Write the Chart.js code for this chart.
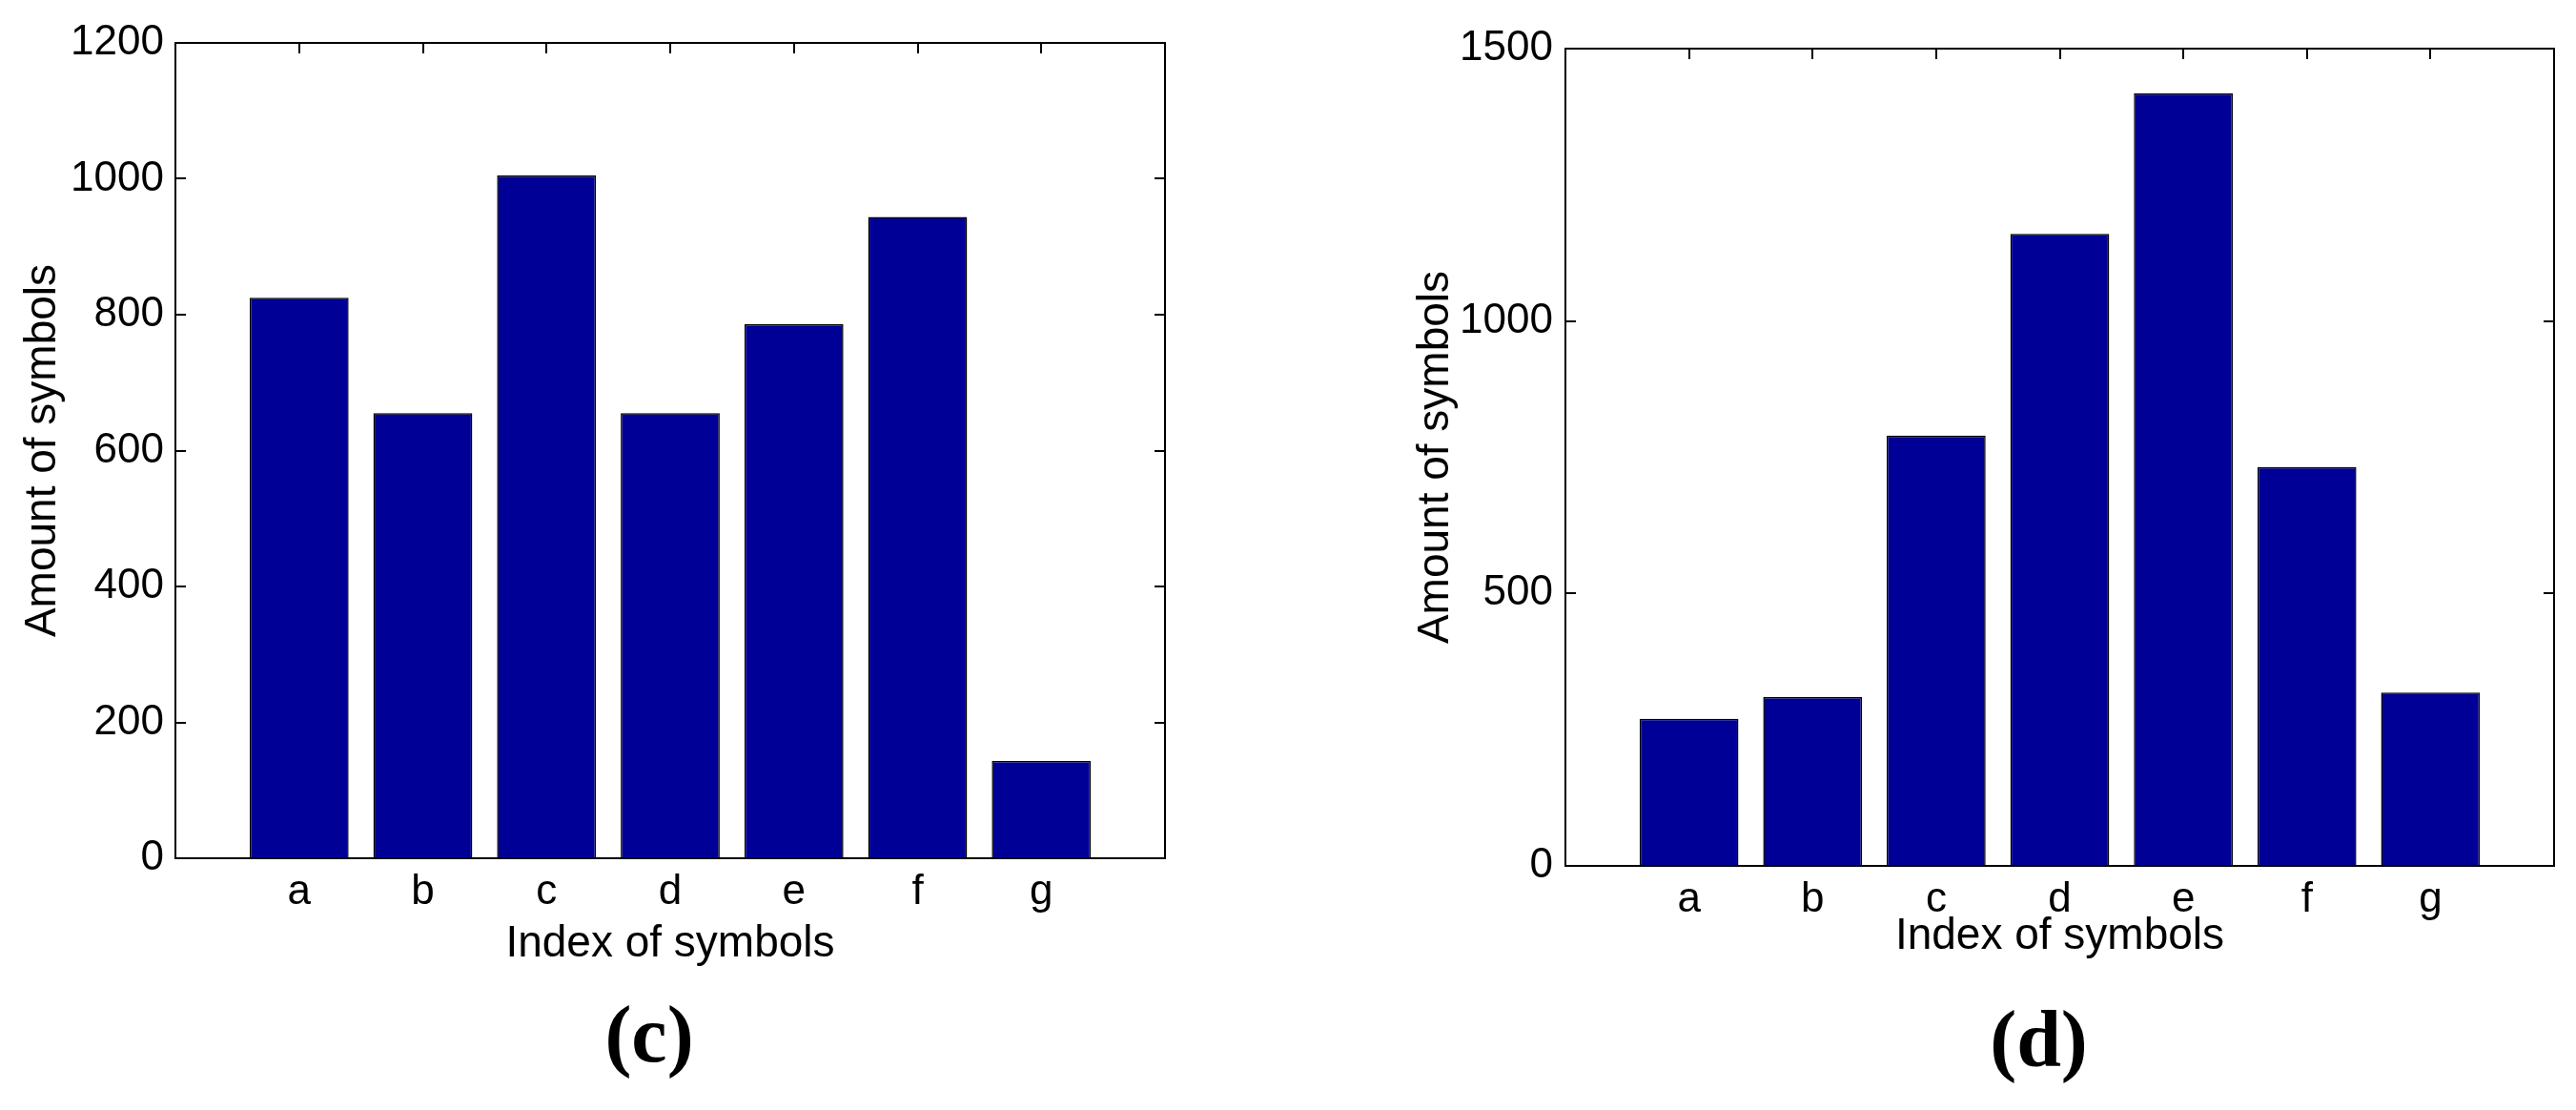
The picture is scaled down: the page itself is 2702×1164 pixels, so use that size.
<!DOCTYPE html>
<html>
<head>
<meta charset="utf-8">
<title>Amount of symbols</title>
<script src="https://cdn.jsdelivr.net/npm/chart.js@4.4.1/dist/chart.umd.min.js"></script>
<style>
  html, body { margin: 0; padding: 0; background: #fff; }
  .panel { position: absolute; top: 0; width: 1351px; height: 1164px; }
  #panelC { left: 0; }
  #panelD { left: 1351px; }
</style>
</head>
<body>
<div class="panel" id="panelC"><canvas id="chartC" width="1351" height="1164"></canvas></div>
<div class="panel" id="panelD"><canvas id="chartD" width="1351" height="1164"></canvas></div>
<script>
// data
const symbols = ["a", "b", "c", "d", "e", "f", "g"];
const amountsC = [825, 655, 1005, 655, 786, 944, 143];
const amountsD = [270, 310, 790, 1160, 1418, 732, 318];
const yTicksC = { max: 1200, step: 200 };
const yTicksD = { max: 1500, step: 500 };

(function () {
  "use strict";

  const COLORS = {
    bar: "#000096",
    edge: "#000000",
    text: "#000000",
  };
  const SANS = "'Liberation Sans', Arial, sans-serif";
  const SERIF = "'Liberation Serif', 'Times New Roman', serif";
  const TICK_LEN = 11;

  // MATLAB-style box with inward ticks on left/right and top
  const frameTicks = {
    id: "frameTicks",
    afterDatasetsDraw(chart) {
      const { ctx, chartArea: a, scales } = chart;
      ctx.save();
      ctx.strokeStyle = "#000";
      ctx.lineWidth = 2;
      ctx.beginPath();
      scales.y.ticks.forEach((t) => {
        const py = Math.round(scales.y.getPixelForValue(t.value));
        ctx.moveTo(a.left, py);
        ctx.lineTo(a.left + TICK_LEN, py);
        ctx.moveTo(a.right, py);
        ctx.lineTo(a.right - TICK_LEN, py);
      });
      scales.x.ticks.forEach((t) => {
        const px = Math.round(scales.x.getPixelForValue(t.value));
        ctx.moveTo(px, a.top);
        ctx.lineTo(px, a.top + TICK_LEN);
      });
      ctx.stroke();
      ctx.strokeRect(a.left, a.top, a.right - a.left, a.bottom - a.top);
      ctx.restore();
    },
  };

  // the "(c)" / "(d)" caption under each panel, a bit left of centre
  const panelLabel = {
    id: "panelLabel",
    afterDraw(chart, args, opts) {
      if (!opts || !opts.text) return;
      const { ctx, chartArea: a } = chart;
      ctx.save();
      ctx.font = `bold ${opts.size}px ${SERIF}`;
      ctx.fillStyle = COLORS.text;
      ctx.textAlign = "center";
      ctx.textBaseline = "alphabetic";
      ctx.fillText(opts.text, (a.left + a.right) / 2 + opts.dx, a.bottom + opts.dy);
      ctx.restore();
    },
  };

  function buildChart(canvasId, values, yTicks, label, lay) {
    const canvas = document.getElementById(canvasId);
    if (!canvas || typeof Chart === "undefined") return;

    new Chart(canvas, {
      type: "bar",
      data: {
        datasets: [{
          data: values.map((v, i) => ({ x: i + 1, y: v })),
          backgroundColor: COLORS.bar,
          borderColor: COLORS.edge,
          borderWidth: 1.5,
          categoryPercentage: 1,
          barPercentage: 0.8,
        }],
      },
      options: {
        responsive: false,
        animation: false,
        layout: { padding: lay.padding },
        plugins: {
          legend: { display: false },
          tooltip: { enabled: false },
          title: { display: false },
          panelLabel: { text: label, size: 84, dx: -22, dy: lay.labelDy },
        },
        scales: {
          x: {
            type: "linear",
            min: 0,
            max: symbols.length + 1,
            offset: false,
            grid: { display: false, drawTicks: false, offset: false },
            border: { display: false },
            afterBuildTicks: (scale) => {
              scale.ticks = symbols.map((_, i) => ({ value: i + 1 }));
            },
            afterFit: (scale) => { scale.height = lay.xHeight; },
            ticks: {
              color: COLORS.text,
              font: { family: SANS, size: 44 },
              padding: 9.3,
              maxRotation: 0,
              autoSkip: false,
              callback: (v) => symbols[v - 1],
            },
            title: {
              display: true,
              text: "Index of symbols",
              color: COLORS.text,
              font: { family: SANS, size: 46 },
              padding: 0,
            },
          },
          y: {
            min: 0,
            max: yTicks.max,
            grid: { display: false, drawTicks: false },
            border: { display: false },
            afterFit: (scale) => { scale.width = lay.yWidth; },
            ticks: {
              stepSize: yTicks.step,
              color: COLORS.text,
              font: { family: SANS, size: 44 },
              padding: lay.yTickPad,
              callback: (v) => String(v),
            },
            title: {
              display: true,
              text: "Amount of symbols",
              color: COLORS.text,
              font: { family: SANS, size: 46 },
              padding: 0,
            },
          },
        },
      },
      plugins: [frameTicks, panelLabel],
    });
  }

  buildChart("chartC", amountsC, yTicksC, "(c)", {
    padding: { left: 17.4, right: 129, top: 45, bottom: 146.4 },
    yWidth: 166.6,
    yTickPad: 12,
    xHeight: 117.6,
    labelDy: 213,
  });

  buildChart("chartD", amountsD, yTicksD, "(d)", {
    padding: { left: 127.4, right: 23, top: 51, bottom: 154.4 },
    yWidth: 163.6,
    yTickPad: 13,
    xHeight: 101.6,
    labelDy: 210,
  });
})();
</script>
</body>
</html>
